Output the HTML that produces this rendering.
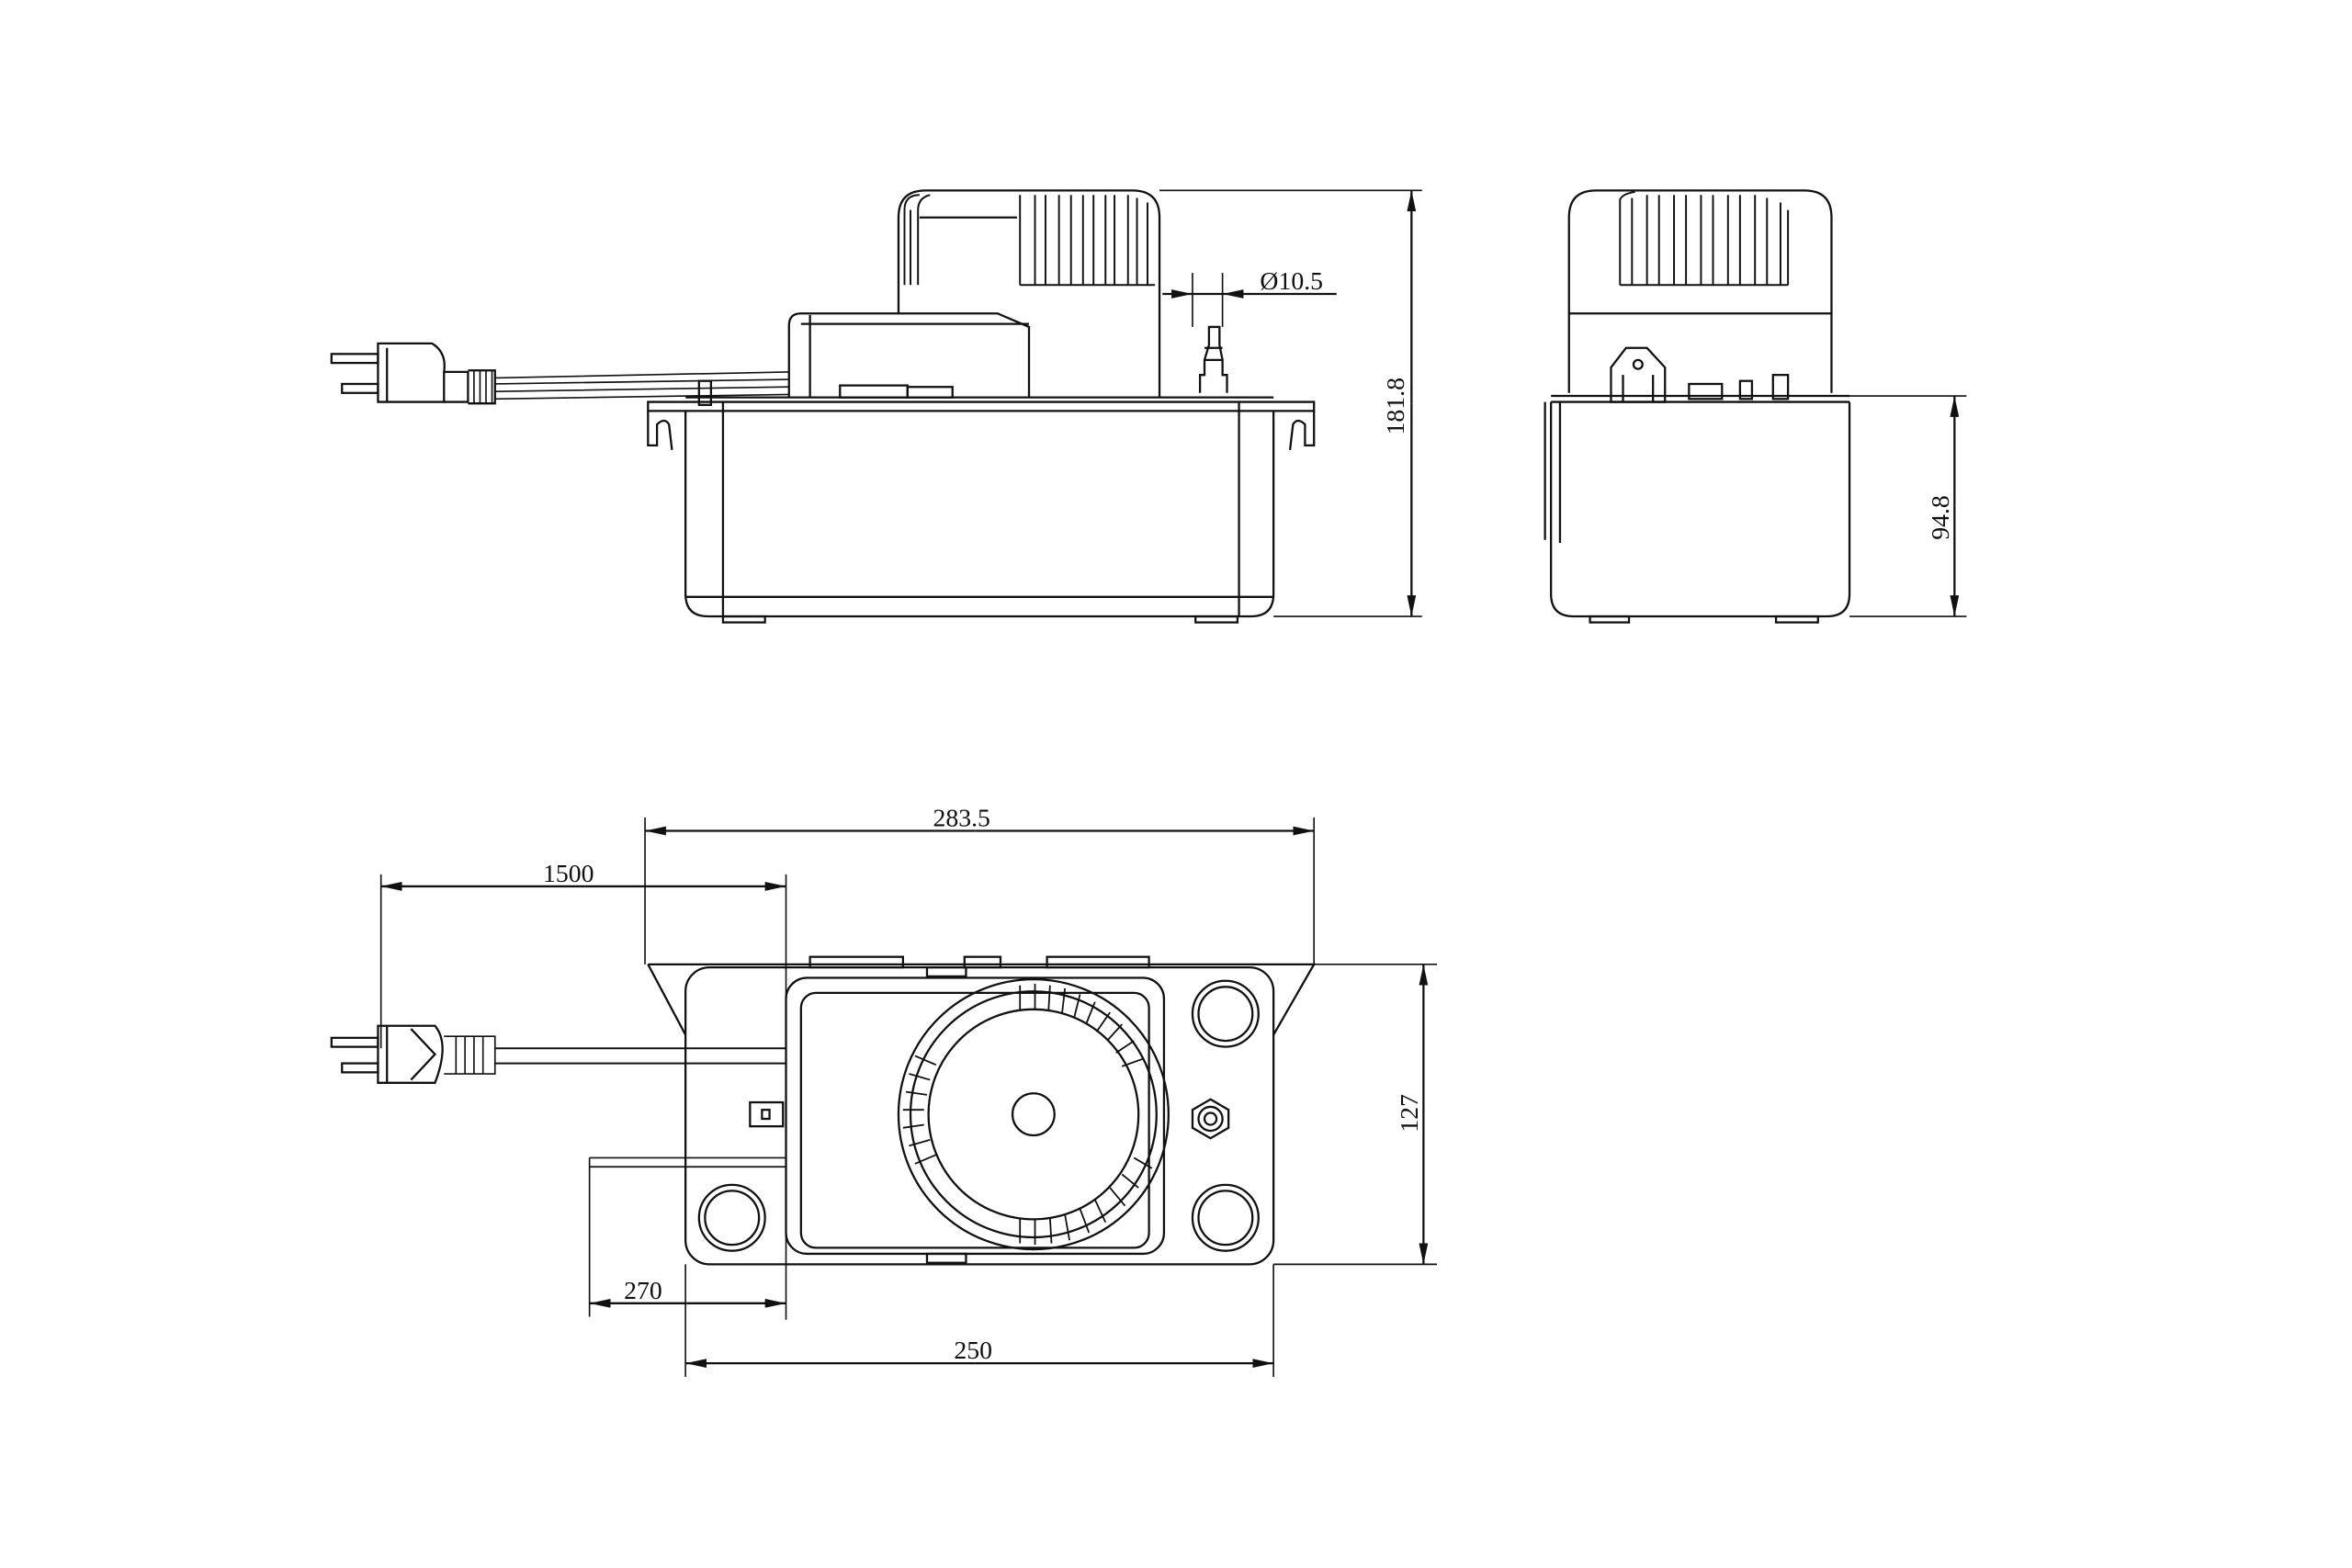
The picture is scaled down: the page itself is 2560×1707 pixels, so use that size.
<!DOCTYPE html>
<html><head><meta charset="utf-8"><style>html,body{margin:0;padding:0;background:#fff}svg{display:block}</style></head>
<body>
<svg width="2560" height="1707" viewBox="0 0 1568 1045.5" preserveAspectRatio="none" xmlns="http://www.w3.org/2000/svg" font-family="Liberation Serif, serif" font-size="15" fill="none" stroke="#111" stroke-width="1.4">
<defs>
<marker id="a" viewBox="0 0 14 6" refX="14" refY="3" markerWidth="14" markerHeight="6" markerUnits="userSpaceOnUse" orient="auto-start-reverse"><path d="M0,0 L14,3 L0,6 z" fill="#111" stroke="none"/></marker>
</defs>
<!-- ===== SIDE VIEW ===== -->
<g>
<path d="M599,209 L599,145 Q599,127 617,127 L755,127 Q773,127 773,145 L773,265"/>
<path d="M613,145 L678,145"/>
<g stroke-width="1.2">
<path d="M603,190 L603,140 Q603,130 613,130"/><path d="M607,190 L607,140"/><path d="M612,190 L612,140 Q612,132 620,130"/>
<path d="M680,190 L680,130"/><path d="M690,190 L690,130"/><path d="M697,190 L697,130"/><path d="M706,190 L706,130"/><path d="M714,190 L714,130"/><path d="M722,190 L722,130"/><path d="M729,190 L729,130"/><path d="M737,190 L737,130"/><path d="M743,190 L743,130"/><path d="M752,190 L752,130"/><path d="M758,190 L758,132"/><path d="M765,190 L765,135"/>
<path d="M680,190 L770,190"/>
</g>
<path d="M526,265 L526,217 Q526,209 534,209 L665,209 L686,218 L686,265"/>
<path d="M540,210 L540,265"/><path d="M534,216 L686,216"/>
<rect x="560" y="257" width="45" height="8"/><rect x="605" y="258" width="30" height="7"/>
<path d="M800,262 L800,250 L803,250 L803,240 L806,230 L806,218 L813,218 L813,230 L815,240 L815,250 L818,250 L818,262"/>
<path d="M803,232 L815,232 M803,240 L815,240"/>
<path d="M432,268 L876,268 L876,274 L432,274 z"/>
<path d="M457,265 L849,265"/>
<path d="M432,274 L432,297 L438,297 L438,283 Q443,278 446,283 L448,300"/>
<path d="M876,274 L876,297 L870,297 L870,283 Q865,278 862,283 L860,300"/>
<path d="M457,274 L457,396 Q457,411 472,411 L834,411 Q849,411 849,396 L849,274"/>
<path d="M482,268 L482,411 M826,268 L826,411 M457,398 L849,398"/>
<rect x="482" y="411" width="28" height="4"/><rect x="797" y="411" width="28" height="4"/>
<path d="M330,252 L526,248 M330,256 L526,253 M330,261 L526,258 M330,266 L526,263" stroke-width="1"/>
<rect x="466" y="254" width="8" height="16"/>
<path d="M252,229 L288,229 Q298,235 296,248 L296,268 L252,268 z"/>
<path d="M258,232 L258,268 M296,248 L312,248 L312,268 L296,268"/>
<path d="M312,247 L330,247 L330,269 L312,269" /><path d="M316,247 L316,269 M320,247 L320,269 M324,247 L324,269 M328,247 L328,269" stroke-width="1"/>
<rect x="221" y="236" width="31" height="6"/><rect x="228" y="256" width="24" height="6"/>
<path d="M775,196 L795,196" marker-end="url(#a)"/><path d="M840,196 L815,196" marker-end="url(#a)"/><path d="M795,196 L815,196 M840,196 L891,196"/>
<path d="M795,182 L795,218 M815,182 L815,218" stroke-width="1"/>
<text x="840" y="193" fill="#111" stroke="none" font-size="17">Ø10.5</text>
<path d="M773,127 L948,127 M849,411 L948,411" stroke-width="1"/>
<path d="M941,269 L941,127" marker-end="url(#a)"/><path d="M941,269 L941,411" marker-end="url(#a)"/>
<text transform="translate(936,290) rotate(-90)" fill="#111" stroke="none" font-size="17">181.8</text>
</g>
<!-- ===== END VIEW ===== -->
<g>
<path d="M1046,209 L1046,145 Q1046,127 1064,127 L1203,127 Q1221,127 1221,145 L1221,209 z"/>
<g stroke-width="1.2">
<path d="M1080,190 L1080,133 Q1082,129 1090,128 M1088,190 L1088,132 M1098,190 L1098,130 M1106,190 L1106,130 M1116,190 L1116,130 M1124,190 L1124,130 M1134,190 L1134,130 M1142,190 L1142,130 M1152,190 L1152,130 M1160,190 L1160,130 M1170,190 L1170,130 M1178,190 L1178,132 M1187,190 L1187,135 M1192,190 L1192,140"/>
<path d="M1080,190 L1192,190"/>
</g>
<path d="M1046,209 L1046,262 M1221,209 L1221,262"/>
<path d="M1034,264 L1233,264 M1034,268 L1233,268"/>
<path d="M1074,268 L1074,245 L1084,232 L1098,232 L1110,245 L1110,268 z"/><circle cx="1092" cy="243" r="3"/>
<path d="M1082,268 L1082,250 M1102,268 L1102,250"/>
<rect x="1126" y="256" width="22" height="10"/><rect x="1160" y="254" width="8" height="12"/><rect x="1182" y="250" width="10" height="16"/>
<path d="M1034,268 L1034,396 Q1034,411 1049,411 L1218,411 Q1233,411 1233,396 L1233,268"/>
<path d="M1040,268 L1040,362 M1030,268 L1030,360"/>
<rect x="1060" y="411" width="26" height="4"/><rect x="1184" y="411" width="28" height="4"/>
<path d="M1221,264 L1311,264 M1233,411 L1311,411" stroke-width="1"/>
<path d="M1303,337 L1303,264" marker-end="url(#a)"/><path d="M1303,337 L1303,411" marker-end="url(#a)"/>
<text transform="translate(1299,360) rotate(-90)" fill="#111" stroke="none" font-size="17">94.8</text>
</g>
<!-- ===== TOP VIEW ===== -->
<g>
<path d="M432,643 L876,643 L849,690 M432,643 L457,690"/>
<rect x="540" y="638" width="62" height="7"/><rect x="643" y="638" width="24" height="7"/><rect x="698" y="638" width="68" height="7"/>
<rect x="457" y="645" width="392" height="198" rx="16"/>
<rect x="524" y="652" width="252" height="184" rx="14"/>
<rect x="534" y="662" width="232" height="170" rx="10"/>
<rect x="618" y="645" width="26" height="6"/><rect x="618" y="836" width="26" height="6"/>
<circle cx="689" cy="743" r="90"/><circle cx="689" cy="743" r="82"/><circle cx="689" cy="743" r="70"/><circle cx="689" cy="743" r="14"/>
<g stroke-width="1.1">
<path d="M680,657 L680,674 M690,656 L690,673 M700,657 L699,674 M710,659 L708,676 M720,663 L716,679 M730,668 L724,683 M740,675 L731,688 M748,683 L738,694 M756,694 L744,702 M762,706 L748,711"/>
<path d="M680,812 L680,829 M690,813 L690,830 M700,812 L701,829 M710,810 L713,827 M720,806 L726,822 M730,800 L737,815 M740,792 L750,804 M748,783 L759,792 M756,772 L768,779 M602,740 L616,740 M602,752 L616,750 M604,728 L618,730 M606,716 L620,720 M610,704 L624,710 M606,764 L620,760 M610,776 L624,770"/>
</g>
<circle cx="817" cy="676" r="22"/><circle cx="817" cy="676" r="18"/>
<circle cx="817" cy="812" r="22"/><circle cx="817" cy="812" r="18"/>
<circle cx="488" cy="812" r="22"/><circle cx="488" cy="812" r="18"/>
<path d="M807,733 L819,740 L819,752 L807,759 L795,752 L795,740 z"/><circle cx="807" cy="746" r="8"/><circle cx="807" cy="746" r="4"/>
<rect x="500" y="735" width="22" height="16"/><rect x="508" y="740" width="5" height="6"/>
<path d="M330,699 L524,699 M330,709 L524,709" stroke-width="1.2"/>
<path d="M393,772 L524,772 M393,778 L524,778" stroke-width="1"/>
<path d="M252,684 L290,684 Q300,696 290,722 L252,722 z M258,684 L258,722 M274,686 L290,703 L274,720"/>
<path d="M296,691 L330,691 L330,716 L296,716 M304,691 L304,716 M310,691 L310,716 M316,691 L316,716 M322,691 L322,716" stroke-width="1"/>
<rect x="221" y="692" width="31" height="6"/><rect x="228" y="709" width="24" height="6"/>
<path d="M430,545 L430,643 M876,545 L876,643" stroke-width="1"/>
<path d="M650,554 L430,554" marker-end="url(#a)"/><path d="M650,554 L876,554" marker-end="url(#a)"/>
<text x="622" y="551" fill="#111" stroke="none" font-size="17">283.5</text>
<path d="M254,583 L254,699 M524,583 L524,880" stroke-width="1"/>
<path d="M390,591 L254,591" marker-end="url(#a)"/><path d="M390,591 L524,591" marker-end="url(#a)"/>
<text x="362" y="588" fill="#111" stroke="none" font-size="17">1500</text>
<path d="M849,643 L958,643 M849,843 L958,843" stroke-width="1"/>
<path d="M949,743 L949,643" marker-end="url(#a)"/><path d="M949,743 L949,843" marker-end="url(#a)"/>
<text transform="translate(945,755) rotate(-90)" fill="#111" stroke="none" font-size="17">127</text>
<path d="M393,772 L393,878 M457,843 L457,918 M849,843 L849,918" stroke-width="1"/>
<path d="M458,869 L393,869" marker-end="url(#a)"/><path d="M458,869 L524,869" marker-end="url(#a)"/>
<text x="416" y="866" fill="#111" stroke="none" font-size="17">270</text>
<path d="M650,909 L457,909" marker-end="url(#a)"/><path d="M650,909 L849,909" marker-end="url(#a)"/>
<text x="636" y="906" fill="#111" stroke="none" font-size="17">250</text>
</g>
</svg>
</body></html>
